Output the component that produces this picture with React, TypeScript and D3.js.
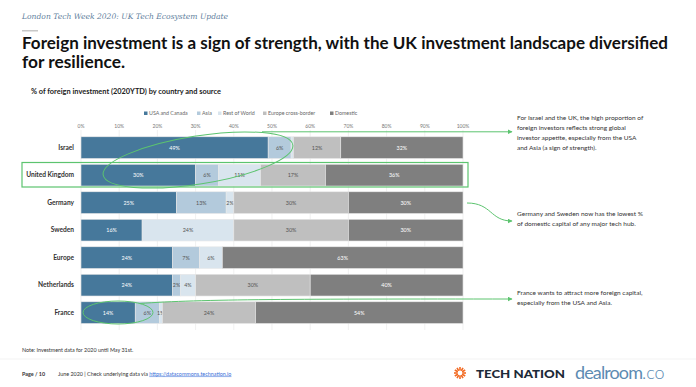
import React from 'react'
import * as d3 from 'd3'

const countries = ['Israel', 'United Kingdom', 'Germany', 'Sweden', 'Europe', 'Netherlands', 'France']
const sources = ['USA and Canada', 'Asia', 'Rest of World', 'Europe cross-border', 'Domestic']
const usaCanada = [49, 30, 25, 16, 24, 24, 14.2]
const asia = [6, 6, 13, 0, 7, 2, 6.3]
const restOfWorld = [0.6, 11, 2, 24, 6, 4, 0.8]
const europeCross = [12.4, 17, 30, 30, 0, 30, 24.4]
const domestic = [32, 36, 30, 30, 63, 40, 54.3]
const ticks = [0, 10, 20, 30, 40, 50, 60, 70, 80, 90, 100]

const colors = ['#46789b', '#b3cadc', '#d9e5ee', '#bfbfbf', '#7f7f7f']
const labelColors = ['#ffffff', '#555555', '#555555', '#555555', '#ffffff']
const green = '#5cc46f'
const font = 'Lato, "Open Sans", sans-serif'

const notes = [
  { y: 118, lines: ['For Israel and the UK, the high proportion of', 'foreign investors reflects strong global', 'investor appetite, especially from the USA', 'and Asia (a sign of strength).'] },
  { y: 214, lines: ['Germany and Sweden now has the lowest %', 'of domestic capital of any major tech hub.'] },
  { y: 293, lines: ['France wants to attract more foreign capital,', 'especially from the USA and Asia.'] }
]

const rows = countries.map((c, i) => ({
  country: c,
  values: [usaCanada[i], asia[i], restOfWorld[i], europeCross[i], domestic[i]]
}))

export default function App() {
  const x = d3.scaleLinear().domain([0, 100]).range([81, 463])
  const y = d3.scaleBand().domain(countries).range([133.9, 326.4]).paddingInner(0.21).paddingOuter(0.105)
  const stack = d3
    .stack()
    .keys(d3.range(sources.length))
    .value((d, k) => d.values[k])(rows)

  const legendX = [144, 197, 218, 263, 330]

  return (
    <svg width={696} height={387} style={{ position: 'absolute', left: 0, top: 0, background: '#fff' }} fontFamily={font}>
      <rect width={696} height={387} fill="#fff" />
      {/* header */}
      <text x={22} y={19} fontFamily='"DejaVu Serif", serif' fontStyle="italic" fontSize={7.6} fill="#5f7f9e">
        London Tech Week 2020: UK Tech Ecosystem Update
      </text>
      <rect x={22} y={30} width={16} height={1.5} fill="#c8c8c8" />
      <text x={22} y={49} fontSize={17} fontWeight={700} fill="#111" textLength={646} lengthAdjust="spacingAndGlyphs">
        Foreign investment is a sign of strength, with the UK investment landscape diversified
      </text>
      <text x={22} y={68} fontSize={17} fontWeight={700} fill="#111" textLength={103} lengthAdjust="spacingAndGlyphs">
        for resilience.
      </text>

      {/* chart title + legend */}
      <text x={31} y={94} fontSize={7.4} fontWeight={700} fill="#222">
        % of foreign investment (2020YTD) by country and source
      </text>
      {sources.map((s, i) => (
        <g key={s}>
          <rect x={legendX[i]} y={111.5} width={3.5} height={3.5} fill={colors[i]} />
          <text x={legendX[i] + 5} y={115.3} fontSize={5.3} fill="#666">
            {s}
          </text>
        </g>
      ))}

      {/* grid + ticks */}
      {ticks.map((t) => (
        <g key={t}>
          <line x1={x(t)} x2={x(t)} y1={130} y2={330} stroke="#e6e6e6" strokeWidth={0.6} />
          <text x={x(t)} y={127.5} fontSize={5} fill="#777" textAnchor="middle">
            {t}%
          </text>
        </g>
      ))}

      {/* bars */}
      {stack.map((layer, k) => (
        <g key={k}>
          {layer.map((d, i) => {
            const v = d[1] - d[0]
            if (v <= 0) return null
            return (
              <g key={i}>
                <rect
                  x={x(d[0])}
                  y={y(d.data.country)}
                  width={x(d[1]) - x(d[0])}
                  height={y.bandwidth()}
                  fill={colors[k]}
                  stroke="#e8e8e8"
                  strokeWidth={0.6}
                />
                {v >= 0.75 && (
                  <text
                    x={(x(d[0]) + x(d[1])) / 2}
                    y={y(d.data.country) + y.bandwidth() / 2 + 1.9}
                    fontSize={5.4}
                    fill={labelColors[k]}
                    textAnchor="middle"
                  >
                    {Math.round(v)}%
                  </text>
                )}
              </g>
            )
          })}
        </g>
      ))}
      {countries.map((c) => (
        <text key={c} x={74} y={y(c) + y.bandwidth() / 2 + 2.3} fontSize={6.6} fontWeight={700} fill="#333" textAnchor="end">
          {c}
        </text>
      ))}

      {/* annotations */}
      <defs>
        <marker id="arr" viewBox="0 0 10 10" refX={9} refY={5} markerWidth={5} markerHeight={5} orient="auto">
          <path d="M0,0 L10,5 L0,10 z" fill={green} />
        </marker>
      </defs>
      <ellipse cx={198} cy={160} rx={96} ry={24} transform="rotate(-9 198 160)" fill="none" stroke={green} strokeWidth={1} />
      <rect x={22} y={162.5} width={446} height={24.5} fill="none" stroke={green} strokeWidth={1.2} />
      <path d="M262,131.8 L512,131.8" fill="none" stroke={green} strokeWidth={1} markerEnd="url(#arr)" />
      <path d="M467,203 C492,203 490,221 512,221" fill="none" stroke={green} strokeWidth={1} markerEnd="url(#arr)" />
      <ellipse cx={118} cy={312.5} rx={35} ry={11.5} fill="none" stroke={green} strokeWidth={1} />
      <path d="M140,303.5 C200,299 300,299 512,299" fill="none" stroke={green} strokeWidth={1} markerEnd="url(#arr)" />
      {notes.map((n, i) => (
        <text key={i} fontSize={6.5} fill="#333">
          {n.lines.map((l, j) => (
            <tspan key={j} x={517} y={n.y + 2.3 + j * 10}>
              {l}
            </tspan>
          ))}
        </text>
      ))}

      {/* footer */}
      <text x={22} y={352} fontSize={5.4} fill="#333">
        Note: Investment data for 2020 until May 31st.
      </text>
      <line x1={0} x2={696} y1={359} y2={359} stroke="#f0f0f0" strokeWidth={0.8} />
      <text x={22} y={375.5} fontSize={5.4} fill="#333">
        <tspan fontWeight={700}>Page / 10</tspan>
        <tspan x={58}>June 2020 | Check underlying data via </tspan>
        <tspan fill="#3a6fd8" textDecoration="underline">
          https://datacommons.technation.io
        </tspan>
      </text>
      <g transform="translate(460,373)">
        {d3.range(12).map((i) => (
          <line
            key={i}
            x1={0}
            y1={0}
            x2={6 * Math.cos((i * Math.PI) / 6)}
            y2={6 * Math.sin((i * Math.PI) / 6)}
            stroke="#f26a22"
            strokeWidth={1.6}
          />
        ))}
        <circle r={2.4} fill="#fff" />
      </g>
      <text x={476} y={377.5} fontSize={11.5} fontWeight={900} fill="#1d2a38" textLength={89} lengthAdjust="spacingAndGlyphs">
        TECH NATION
      </text>
      <text x={575} y={379} fontSize={18} fill="#5d8bb2">
        <tspan fontWeight={400} textLength={68}>dealroom</tspan>
        <tspan fontWeight={300}>.co</tspan>
      </text>
    </svg>
  )
}
